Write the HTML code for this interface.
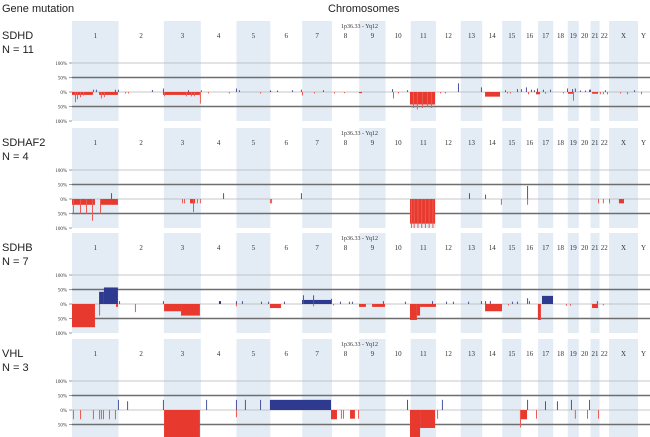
<!DOCTYPE html>
<html><head><meta charset="utf-8">
<style>
html,body{margin:0;padding:0;background:#fff;width:650px;height:437px;overflow:hidden}
svg{display:block}
.t{font-family:"Liberation Sans",sans-serif;fill:#222}
.s{font-family:"Liberation Serif",serif;fill:#333}
</style></head>
<body>
<svg id="chart" width="650" height="437">
<text class="t" x="2" y="12" font-size="11">Gene mutation</text>
<text class="t" x="328" y="12" font-size="11">Chromosomes</text>
</svg>
<script>
const chromNames=["1","2","3","4","5","6","7","8","9","10","11","12","13","14","15","16","17","18","19","20","21","22","X","Y"];
const chromLengths=[249,243,198,191,181,171,159,146,141,135,135,133,115,107,102,90,81,78,59,63,48,51,155,59];
const panelNames=["SDHD","SDHAF2","SDHB","VHL"];
const panelN=["N = 11","N = 4","N = 7","N = 3"];
const yTickLabels=["100%","50%","0%","50%","100%"];
const yTickValues=[100,50,0,-50,-100];
// segments: [startMb, endMb, percent] genome-wide; negative = loss
const p1=[[0,112,-10],[145,246,-10],[16,16,-35],[27,27,-25],[43,43,-18],[59,59,-12],[155,155,-22],[171,171,-18],[112,112,8],[128,128,8],[230,230,8],[246,246,8],
[284,284,-5],[300,300,-5],[428,428,7],
[487,685,-10],[493,493,-15],[610,610,-15],[637,637,-15],[653,653,-15],[685,685,-40],[487,487,12],[621,621,6],[690,690,6],
[728,730,-5],[840,840,-5],[878,878,12],[894,894,6],[1007,1010,-5],[1060,1066,5],[1098,1098,5],[1178,1178,6],
[1226,1226,8],[1232,1232,-12],[1296,1298,-5],[1344,1344,6],[1403,1403,-5],[1457,1457,-4],[1537,1553,-4],
[1714,1714,10],[1719,1719,-22],[1746,1746,-5],[1794,1794,6],
[1810,1944,-43],[1826,1826,-55],[1847,1847,-60],[1874,1874,-55],[1901,1901,-50],[1922,1922,-55],
[1971,1971,-5],[1997,1997,-5],[2067,2067,30],[2190,2190,16],[2212,2292,-16],
[2319,2319,6],[2329,2329,-5],[2345,2345,-5],[2383,2383,10],[2404,2404,10],[2431,2431,16],[2442,2442,-8],[2458,2458,8],[2474,2474,6],
[2485,2506,-8],[2490,2490,12],[2522,2522,8],[2560,2560,8],[2533,2533,-6],[2629,2629,-5],
[2651,2651,12],[2656,2688,-6],[2683,2683,-30],[2678,2678,10],[2693,2693,12],[2720,2720,5],[2747,2747,5],[2769,2769,8],
[2774,2774,8],[2785,2817,-6],[2827,2827,-8],[2843,2843,-8],[2854,2854,6],[2865,2865,-8],[2935,2935,-5],[2972,2972,-8],[3010,3010,6],[3047,3047,-8]];
const p2=[[0,123,-20],[150,246,-20],[5,5,-50],[43,43,-50],[75,75,-50],[107,107,-75],[150,150,-50],[209,209,20],
[589,589,-15],[600,600,-15],[632,659,-15],[648,648,-45],[669,669,-15],[685,685,-15],[809,809,20],[1060,1060,-15],[1066,1066,-15],[1226,1226,20],
[1810,1944,-85],[1815,1815,-100],[1830,1830,-100],[1850,1850,-100],[1870,1870,-100],[1890,1890,-100],[1910,1910,-100],[1930,1930,-100],
[2126,2126,20],[2212,2212,15],[2297,2297,-20],[2437,2437,45],[2437,2437,-20],[2817,2817,-15],[2843,2843,-15],[2876,2876,-15],[2929,2956,-15]];
const p3=[[0,123,-80],[145,171,42],[171,246,57],[145,145,-40],[236,246,-10],[252,252,10],[337,337,-28],
[487,487,10],[493,584,-25],[584,685,-40],[787,798,10],[878,878,10],[878,878,-8],[910,910,10],[1012,1012,8],[1050,1050,8],
[1060,1119,-14],[1135,1135,8],[1232,1392,14],[1237,1237,30],[1291,1291,30],[1291,1291,-8],[1387,1387,18],[1398,1398,-5],
[1435,1435,8],[1483,1483,8],[1499,1499,8],[1537,1574,-10],[1607,1676,-10],[1665,1665,10],[1783,1783,8],
[1810,1847,-55],[1847,1864,-40],[1864,1949,-10],[1928,1928,10],[2003,2003,8],[2040,2040,8],[2121,2121,8],[2190,2190,10],
[2212,2303,-25],[2212,2212,10],[2238,2238,10],[2335,2335,-5],[2356,2356,8],[2383,2383,8],[2437,2437,20],[2447,2447,10],
[2495,2511,-55],[2517,2576,28],[2645,2645,-6],[2667,2667,-6],[2785,2817,-14],[2811,2811,10],[2843,2843,-5]];
const p4=[[5,5,-32],[43,43,-32],[112,112,-32],[145,145,-32],[155,155,-32],[166,166,-32],[198,198,-32],[230,230,-32],[246,246,35],[295,295,30],
[487,487,35],[493,685,-100],[718,718,35],[878,878,35],[878,878,-25],[926,926,35],[1007,1007,35],[1060,1387,35],
[1387,1419,-32],[1440,1440,-30],[1451,1451,-30],[1489,1515,-30],[1532,1532,-30],[1794,1794,35],
[1810,1864,-95],[1864,1944,-62],[1955,1955,-30],[1981,1981,35],[2399,2437,-32],[2399,2399,-60],[2437,2437,35],[2485,2485,-30],
[2533,2533,30],[2597,2597,30],[2672,2672,35],[2693,2693,-30],[2758,2758,-30],[2769,2769,35],[2817,2817,-30]];
const panelData=[p1,p2,p3,p4];

const NS="http://www.w3.org/2000/svg";
const svg=document.getElementById('chart');
const totalMb=chromLengths.reduce((a,b)=>a+b,0);
const X0=72,X1=649;
function xScale(mb){return X0+mb/totalMb*(X1-X0);}
const chromStart=[];let acc=0;for(const l of chromLengths){chromStart.push(acc);acc+=l;}
const panelTops=[21,128,233,339];
function yScale(top,v){return top+71-v*0.29;}
function mk(tag,attrs,parent){const e=document.createElementNS(NS,tag);for(const k in attrs)e.setAttribute(k,attrs[k]);(parent||svg).appendChild(e);return e;}

panelTops.forEach((top,pi)=>{
  const g=mk('g',{});
  
  
  chromLengths.forEach((len,ci)=>{
    if(ci%2===0){
      const r=mk('rect',{x:xScale(chromStart[ci]),y:top,width:xScale(chromStart[ci]+len)-xScale(chromStart[ci]),height:100,fill:'#e3ebf5'},g);
      
      
    }
    const t=mk('text',{x:xScale(chromStart[ci]+len/2),y:top+17,'font-size':7,'text-anchor':'middle',class:'s'},g);
    t.textContent=chromNames[ci];
    
    
  });
  const rl=mk('text',{x:341,y:top+7,'font-size':6,class:'s'},g);
  rl.textContent='1p36.33 - Yq12';
  
  
  // grid lines
  yTickValues.forEach((v,ti)=>{
    const y=yScale(top,v);
    if(Math.abs(v)===50){
      const l=mk('line',{x1:X0,x2:650,y1:y,y2:y,stroke:'#6e6e6e','stroke-width':1.6},g);
      
      
    } else if(v===0||v===100){
      const l=mk('line',{x1:X0,x2:650,y1:y,y2:y,stroke:'#b4b4b4','stroke-width':0.8},g);
      
      
    }
    const tk=mk('line',{x1:69,x2:72,y1:y,y2:y,stroke:'#555','stroke-width':0.6},g);
    
    
    const tl=mk('text',{x:67,y:y+2,'font-size':5,'text-anchor':'end',class:'s'},g);
    tl.textContent=yTickLabels[ti];
    
    
  });
  // data
  panelData[pi].forEach(seg=>{
    const xa=xScale(seg[0]),xb=xScale(seg[1]);
    const w=Math.max(xb-xa,1);
    const y0=yScale(top,0),y1=yScale(top,seg[2]);
    const thin=(xb-xa)<1;
    const r=mk('rect',{x:xa,y:Math.min(y0,y1),width:w,height:Math.abs(y1-y0),
      fill:seg[2]<0?(thin?'#ea5a52':'#e8392f'):(thin?'#4a55a0':'#2e3a8f')},g);
    
    
  });
  const pn=mk('text',{x:2,y:top+18,'font-size':11,class:'t'},g);
  pn.textContent=panelNames[pi];
  
  
  const nn=mk('text',{x:2,y:top+32,'font-size':11,class:'t'},g);
  nn.textContent=panelN[pi];
  
  
});
</script>
</body></html>
